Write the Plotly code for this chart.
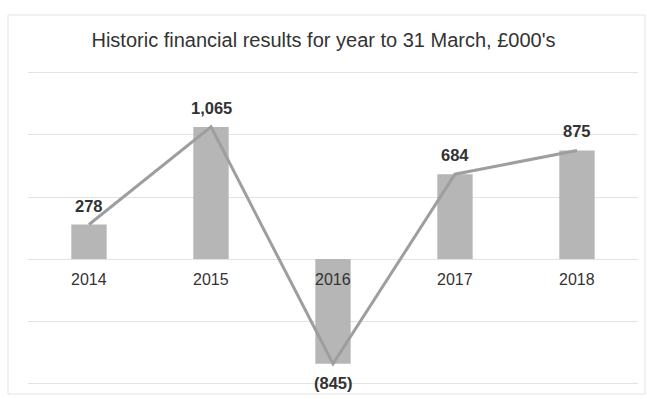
import plotly.graph_objects as go

years = ["2014", "2015", "2016", "2017", "2018"]
values = [278, 1065, -845, 684, 875]
value_labels = ["278", "1,065", "(845)", "684", "875"]

bar_color = "#b6b6b6"
line_color = "#9e9e9e"
text_color = "#333333"

fig = go.Figure()
fig.add_trace(go.Bar(x=years, y=values, marker=dict(color=bar_color, line=dict(width=0)),
                     hoverinfo="skip", showlegend=False))
fig.add_trace(go.Scatter(x=years, y=values, mode="lines",
                         line=dict(color=line_color, width=3), hoverinfo="skip", showlegend=False))

annotations = []
for i, (yr, v, lab) in enumerate(zip(years, values, value_labels)):
    annotations.append(dict(x=i, y=v, xref="x", yref="y", text="<b>%s</b>" % lab, showarrow=False,
                            yanchor="bottom" if v >= 0 else "top",
                            yshift=8 if v >= 0 else -8,
                            font=dict(family="Liberation Sans, Arial", size=16.5, color=text_color)))
    annotations.append(dict(x=i, y=0, xref="x", yref="y", text=yr, showarrow=False,
                            yanchor="middle", yshift=-20,
                            font=dict(family="Liberation Sans, Arial", size=16, color=text_color)))

fig.update_layout(
    width=647, height=399,
    margin=dict(l=28, r=9, t=71, b=14),
    paper_bgcolor="white", plot_bgcolor="white",
    bargap=0.71,
    title=dict(text="Historic financial results for year to 31 March, £000's",
               x=0.5, xanchor="center", y=1 - 40 / 399, yanchor="middle",
               font=dict(family="Liberation Sans, Arial", size=20, color=text_color)),
    xaxis=dict(type="category", showticklabels=False, showgrid=False, zeroline=False,
               showline=False, range=[-0.5, 4.5]),
    yaxis=dict(range=[-1016, 1516], dtick=500, showticklabels=False, showgrid=True,
               gridcolor="#e3e3e3", gridwidth=1, zeroline=True, zerolinecolor="#e3e3e3",
               zerolinewidth=1, showline=False),
    annotations=annotations,
    shapes=[dict(type="rect", xref="paper", yref="paper",
                 x0=(8 - 28) / 610, x1=(645 - 28) / 610,
                 y0=(385 - 394) / 314, y1=(385 - 15) / 314,
                 line=dict(color="#e3e3e3", width=1), layer="below")],
)

fig.write_html("out.html")
